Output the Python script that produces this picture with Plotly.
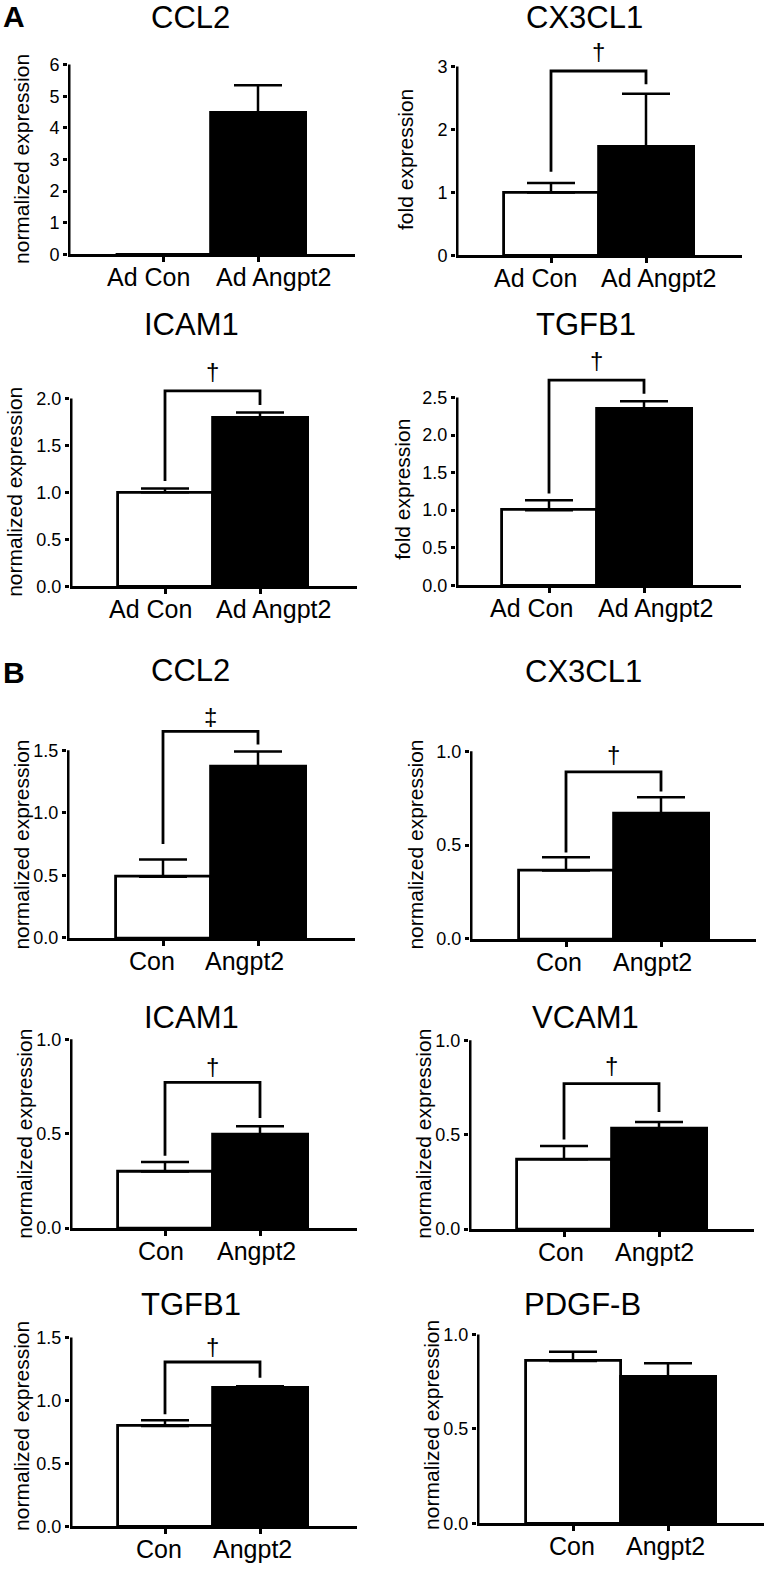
import plotly.graph_objects as go

W, H = 767, 1573
FONT = "Liberation Sans, Arial, Helvetica, sans-serif"

# ---- data ----
titles = ["CCL2", "CX3CL1", "ICAM1", "TGFB1",
          "CCL2", "CX3CL1", "ICAM1", "VCAM1", "TGFB1", "PDGF-B"]
ylabels = ["normalized expression", "fold expression", "normalized expression", "fold expression",
           "normalized expression", "normalized expression", "normalized expression",
           "normalized expression", "normalized expression", "normalized expression"]
cats_a = ["Ad Con", "Ad Angpt2"]
cats_b = ["Con", "Angpt2"]

mean_con = [0.0, 1.0, 1.0, 1.0, 0.49, 0.365, 0.30, 0.37, 0.797, 0.86]
mean_angpt2 = [4.48, 1.73, 1.79, 2.35, 1.367, 0.667, 0.496, 0.532, 1.10, 0.778]
sem_con = [0.0, 0.15, 0.04, 0.13, 0.137, 0.07, 0.05, 0.07, 0.045, 0.049]
sem_angpt2 = [0.87, 0.84, 0.06, 0.10, 0.123, 0.088, 0.044, 0.035, 0.013, 0.07]

y_max = [6, 3, 2.0, 2.5, 1.5, 1.0, 1.0, 1.0, 1.5, 1.0]
y_step = [1, 1, 0.5, 0.5, 0.5, 0.5, 0.5, 0.5, 0.5, 0.5]

# significance brackets: leg over Con, bar height, leg over Angpt2
bracket_con = [None, 1.33, 1.12, 1.22, 0.75, 0.46, 0.383, 0.475, 0.89, None]
bracket_top = [None, 2.93, 2.08, 2.73, 1.65, 0.89, 0.772, 0.771, 1.305, None]
bracket_ang = [None, 2.72, 1.93, 2.55, 1.545, 0.785, 0.584, 0.62, 1.18, None]
sig_mark = [None, "†", "†", "†", "‡", "†", "†", "†", "†", None]
sig_y = [None, 3.24, 2.29, 2.99, 1.77, 0.98, 0.858, 0.865, 1.43, None]

# ---- layout geometry in pixels: y-axis x, x-axis end, first category x, zero y, top tick y ----
geom = [
    (68, 355, 163, 256, 65), (456, 742, 551, 257, 67),
    (70, 357, 165, 590, 401), (456, 741, 549, 589, 400),
    (67, 355, 163, 944, 755), (470, 756, 566, 945, 756),
    (70, 357, 165, 1236, 1046), (469, 754, 564, 1237, 1047),
    (70, 357, 165, 1536, 1346), (477, 764, 573, 1533, 1343),
]
title_pos = [(190, 18), (584, 18), (191, 327), (586, 327),
             (190, 675), (583, 676), (191, 1024), (585, 1024), (191, 1313), (582, 1313)]
ytitle_pos = [(22, 160), (406, 160), (15, 495), (403, 493),
              (22, 850), (416, 850), (25, 1141), (424, 1141), (22, 1435), (432, 1434)]
# horizontal nudge of the two category labels under each panel
label_shift = [(-15, 15), (-16, 12), (-15, 13), (-18, 11),
               (-11, -14), (-7, -9), (-4, -4), (-3, -5), (-6, -8), (-1, -3)]
LABEL_DROP = 23
CAT_W = 95
EXT = 45


def fx(p):
    return p / W


def fy(p):
    return 1 - p / H


fig = go.Figure()
shapes, annots, axes = [], [], {}

for i in range(10):
    n = "" if i == 0 else str(i + 1)
    xa, ya = "x" + n, "y" + n
    xl, xr, c0, zero, top = geom[i]
    ppu = (zero - top) / y_max[i]
    cats = cats_a if i < 4 else cats_b

    fig.add_trace(go.Bar(
        x=[0, 1], y=[mean_con[i], mean_angpt2[i]], width=1.0,
        marker=dict(color=["white", "black"], line=dict(color="black", width=2.8)),
        error_y=dict(type="data", symmetric=False, array=[sem_con[i], sem_angpt2[i]],
                     arrayminus=[0, 0], color="black", thickness=2.5, width=24),
        xaxis=xa, yaxis=ya, showlegend=False))

    if bracket_top[i] is not None:
        fig.add_trace(go.Scatter(
            x=[0, 0, 1, 1], y=[bracket_con[i], bracket_top[i], bracket_top[i], bracket_ang[i]],
            mode="lines", line=dict(color="black", width=2.8),
            xaxis=xa, yaxis=ya, showlegend=False))
        annots.append(dict(x=0.5, y=sig_y[i], xref=xa, yref=ya, text=sig_mark[i],
                           showarrow=False, font=dict(size=24, color="black", family=FONT)))

    # category labels
    for k in range(2):
        annots.append(dict(x=k, y=0, xref=xa, yref=ya, text=cats[k], showarrow=False,
                           xanchor="center", yanchor="middle",
                           xshift=label_shift[i][k], yshift=-LABEL_DROP,
                           font=dict(size=25, color="black", family=FONT)))

    x0 = (xl - c0) / CAT_W
    x1 = (xr - c0) / CAT_W
    ticks = []
    v = 0.0
    while v <= y_max[i] + 1e-9:
        ticks.append(round(v, 3))
        v += y_step[i]
    fmt = "{:.0f}" if y_step[i] == 1 else "{:.1f}"

    axes["xaxis" + n] = dict(
        domain=[fx(xl), fx(xr)], range=[x0, x1], anchor=ya,
        tickvals=[0, 1], showticklabels=False, ticks="outside", ticklen=5, tickwidth=2.5,
        tickcolor="black", showline=True, linewidth=2.5, linecolor="black",
        showgrid=False, zeroline=False)
    axes["yaxis" + n] = dict(
        domain=[fy(zero), fy(top - EXT)], range=[0, y_max[i] + EXT / ppu], anchor=xa,
        tickvals=ticks, ticktext=[fmt.format(t) for t in ticks],
        ticks="outside", ticklen=4, tickwidth=2.5, tickcolor="black",
        showline=False, showgrid=False, zeroline=False,
        tickfont=dict(size=18, color="black", family=FONT))

    # y axis line only up to the top tick
    shapes.append(dict(type="line", xref=xa, yref=ya, x0=x0 + 1.25 / CAT_W, x1=x0 + 1.25 / CAT_W,
                       y0=0, y1=y_max[i], line=dict(color="black", width=2.5)))

    tx, ty = title_pos[i]
    annots.append(dict(x=fx(tx), y=fy(ty), xref="paper", yref="paper", text=titles[i],
                       showarrow=False, xanchor="center", yanchor="middle",
                       font=dict(size=31, color="black", family=FONT)))
    lx, lyy = ytitle_pos[i]
    annots.append(dict(x=fx(lx), y=fy(lyy), xref="paper", yref="paper", text=ylabels[i],
                       showarrow=False, textangle=-90, xanchor="center", yanchor="middle",
                       font=dict(size=21, color="black", family=FONT)))

for letter, (px, py) in [("A", (14, 17)), ("B", (14, 677))]:
    annots.append(dict(x=fx(px), y=fy(py), xref="paper", yref="paper", text="<b>" + letter + "</b>",
                       showarrow=False, xanchor="center", yanchor="middle",
                       font=dict(size=30, color="black", family=FONT)))

fig.update_layout(
    width=W, height=H, margin=dict(l=0, r=0, t=0, b=0),
    paper_bgcolor="white", plot_bgcolor="rgba(0,0,0,0)",
    font=dict(family=FONT, color="black"),
    shapes=shapes, annotations=annots, bargap=0, **axes)

# let the figure sit flush in the page (no default body margin), no modebar
fig.write_html("out.html", config={"displayModeBar": False},
               post_script="document.body.style.margin='0px';")
